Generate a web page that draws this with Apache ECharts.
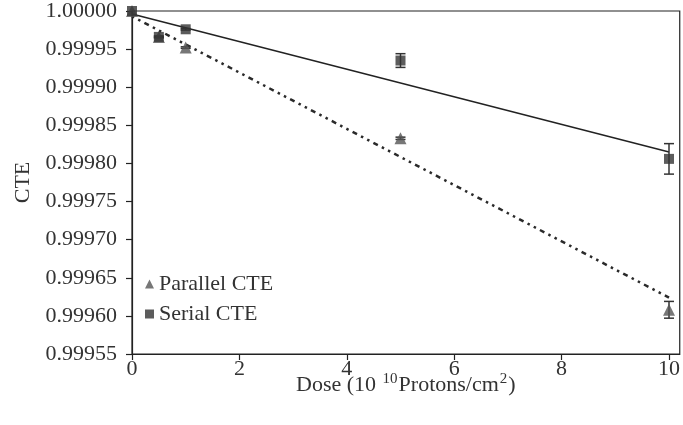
<!DOCTYPE html>
<html>
<head>
<meta charset="utf-8">
<script src="https://cdn.jsdelivr.net/npm/echarts@6/dist/echarts.min.js"></script>
<style>
  html, body { margin: 0; padding: 0; background: #fff; }
  #chart { width: 683px; height: 425px; }
</style>
</head>
<body>
<div id="chart"></div>
<script>
// Dose in units of 1e10 protons/cm^2
const doses = [0, 0.5, 1, 5, 10];

// Charge transfer efficiency measurements
const parallelCTE = [1.00000, 0.999966, 0.999952, 0.999833, 0.999608];
const parallelErr = [0, 0.000001, 0.000001, 0.0000015, 0.000011];
const serialCTE = [1.00000, 0.999966, 0.999976, 0.999935, 0.999806];
const serialErr = [0, 0.000001, 0.000001, 0.000009, 0.00002];

// Linear trend lines (end points at dose 0 and 10)
const trendDoses = [0, 10];
const parallelTrend = [0.999993, 0.999624];
const serialTrend = [0.999996, 0.999815];

// Axis ticks
const xTicks = { min: 0, max: 10.2, interval: 2 };
const yTicks = { min: 0.99955, max: 1.00000, interval: 0.00005 };

const FONT = '"Liberation Serif", "DejaVu Serif", serif';
const INK = '#222';
const TEXT = '#333';

function pairs(xs, ys) { return xs.map((x, i) => [x, ys[i]]); }
function errRows(xs, ys, es) { return xs.map((x, i) => [x, ys[i], es[i]]); }

function errorBarItem(params, api) {
  const x = api.value(0), y = api.value(1), e = api.value(2);
  if (!e) return null;
  const top = api.coord([x, y + e]);
  const bot = api.coord([x, y - e]);
  const half = 5;
  const style = { stroke: '#333', lineWidth: 1.5 };
  return {
    type: 'group',
    children: [
      { type: 'line', shape: { x1: top[0], y1: top[1], x2: bot[0], y2: bot[1] }, style },
      { type: 'line', shape: { x1: top[0] - half, y1: top[1], x2: top[0] + half, y2: top[1] }, style },
      { type: 'line', shape: { x1: bot[0] - half, y1: bot[1], x2: bot[0] + half, y2: bot[1] }, style }
    ]
  };
}

const chart = echarts.init(document.getElementById('chart'), null, { renderer: 'canvas' });

chart.setOption({
  animation: false,
  backgroundColor: '#fff',
  textStyle: { fontFamily: FONT },
  grid: {
    left: 132, top: 10, right: 2, bottom: 71,
    show: true, borderColor: INK, borderWidth: 1.2, containLabel: false
  },
  legend: {
    orient: 'vertical',
    left: 140, top: 268,
    itemGap: 8,
    itemWidth: 9, itemHeight: 9,
    textStyle: { fontFamily: FONT, fontSize: 22, color: TEXT },
    data: [
      { name: 'Parallel CTE', icon: 'triangle' },
      { name: 'Serial CTE', icon: 'rect' }
    ]
  },
  xAxis: {
    type: 'value',
    min: xTicks.min, max: xTicks.max, interval: xTicks.interval,
    name: '{t|Dose (10 }{s|10}{t|Protons/cm}{s|2}{t|)}',
    nameLocation: 'middle',
    nameGap: 18,
    nameMoveOverlap: false,
    nameTextStyle: {
      rich: {
        t: { fontFamily: FONT, fontSize: 22, color: TEXT, verticalAlign: 'bottom', lineHeight: 24 },
        s: { fontFamily: FONT, fontSize: 15, color: TEXT, verticalAlign: 'top', padding: [0, 1, 10, 1], lineHeight: 24 }
      }
    },
    axisLine: { lineStyle: { color: INK, width: 1.2 } },
    axisTick: { show: true, inside: false, length: 6, lineStyle: { color: INK, width: 1.2 } },
    axisLabel: {
      showMaxLabel: false,
      fontFamily: FONT, fontSize: 22, color: TEXT, margin: 4,
      formatter: v => (Math.abs(v - Math.round(v)) < 1e-9 ? String(Math.round(v)) : '')
    },
    splitLine: { show: false }
  },
  yAxis: {
    type: 'value',
    min: yTicks.min, max: yTicks.max, interval: yTicks.interval,
    name: 'CTE',
    nameLocation: 'middle',
    nameRotate: 90,
    nameGap: 98,
    nameMoveOverlap: false,
    nameTextStyle: { fontFamily: FONT, fontSize: 22, color: TEXT },
    axisLine: { show: true, lineStyle: { color: INK, width: 1.2 } },
    axisTick: { show: true, inside: false, length: 6, lineStyle: { color: INK, width: 1.2 } },
    axisLabel: {
      fontFamily: FONT, fontSize: 22, color: TEXT, margin: 15,
      formatter: v => v.toFixed(5)
    },
    splitLine: { show: false }
  },
  series: [
    {
      name: 'Serial trend',
      type: 'line',
      data: pairs(trendDoses, serialTrend),
      symbol: 'none',
      lineStyle: { color: INK, width: 1.5 },
      silent: true, z: 2
    },
    {
      name: 'Parallel trend',
      type: 'line',
      data: pairs(trendDoses, parallelTrend),
      symbol: 'none',
      lineStyle: { color: '#2a2a2a', width: 2.5, type: [2.5, 4.5, 2.5, 4.5, 5, 4.5] },
      silent: true, z: 2
    },
    {
      name: 'Parallel error',
      type: 'custom',
      renderItem: errorBarItem,
      data: errRows(doses, parallelCTE, parallelErr),
      z: 3
    },
    {
      name: 'Serial error',
      type: 'custom',
      renderItem: errorBarItem,
      data: errRows(doses, serialCTE, serialErr),
      z: 3
    },
    {
      name: 'Parallel CTE',
      type: 'scatter',
      data: pairs(doses, parallelCTE),
      symbol: 'triangle',
      symbolSize: 12,
      itemStyle: { color: '#555' },
      z: 4
    },
    {
      name: 'Serial CTE',
      type: 'scatter',
      data: pairs(doses, serialCTE),
      symbol: 'rect',
      symbolSize: 10,
      itemStyle: { color: '#333' },
      z: 5
    }
  ]
});
</script>
</body>
</html>
